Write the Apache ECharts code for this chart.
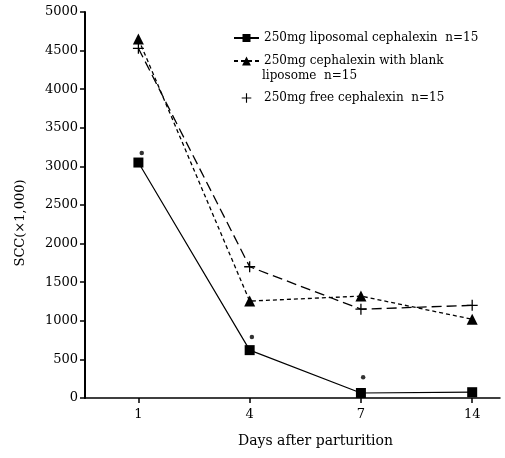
<!DOCTYPE html>
<html>
<head>
<meta charset="utf-8">
<script src="https://cdn.jsdelivr.net/npm/echarts@6/dist/echarts.min.js"></script>
<style>
  html, body { margin: 0; padding: 0; background: #fff; }
  #chart { width: 505px; height: 458px; }
</style>
</head>
<body>
<div id="chart"></div>
<script>
// days after parturition
var days = ['1', '4', '7', '14'];
var dayIdx = [0, 1, 2, 3];

// SCC (x1,000)
var liposomal = [3050, 620, 65, 75];
var blankLipo = [4650, 1255, 1320, 1020];
var freeCeph = [4530, 1700, 1150, 1200];
// significance marks (*) above liposomal points
var sigIdx = [0.03, 1.02, 2.02];
var sigVals = [3175, 790, 270];

var names = [
    '250mg liposomal cephalexin  n=15',
    '250mg cephalexin with blank',
    '250mg free cephalexin  n=15'
];

function pts (vals, idx) {
    return vals.map(function (v, i) { return [idx[i], v]; });
}

var serif = 'DejaVu Serif';
var plusPath = 'path://M5.3,0h1.4v5.3h5.3v1.4h-5.3v5.3h-1.4v-5.3h-5.3v-1.4h5.3z';

var chart = echarts.init(document.getElementById('chart'));

var option = {
    animation: false,
    backgroundColor: '#fff',
    grid: { left: 85, right: 5, top: 12, bottom: 60 },
    legend: [
        {
            data: [names[0]], left: 228, top: 27, itemWidth: 25, itemHeight: 10,
            textStyle: { fontFamily: serif, fontSize: 12, color: '#000' }
        },
        {
            data: [names[1]], left: 228, top: 50, itemWidth: 25, itemHeight: 11,
            textStyle: { fontFamily: serif, fontSize: 12, color: '#000' }
        },
        {
            data: [names[2]], left: 228, top: 87, itemWidth: 25, itemHeight: 12,
            lineStyle: { opacity: 0 },
            textStyle: { fontFamily: serif, fontSize: 12, color: '#000' }
        }
    ],
    graphic: [
        {
            type: 'text', left: 262, top: 70,
            style: { text: 'liposome  n=15', font: '12px "DejaVu Serif"', fill: '#000' }
        }
    ],
    xAxis: {
        type: 'value',
        min: -0.48,
        max: 3.25,
        splitLine: { show: false },
        axisLine: { lineStyle: { color: '#000', width: 1.5 } },
        axisTick: { customValues: dayIdx, length: 5, lineStyle: { color: '#000', width: 1.5 } },
        axisLabel: {
            customValues: dayIdx,
            formatter: function (v) { return days[v]; },
            fontFamily: serif, fontSize: 13, color: '#000', margin: 10
        },
        name: 'Days after parturition',
        nameLocation: 'middle',
        nameGap: 36,
        nameTextStyle: { fontFamily: serif, fontSize: 14, color: '#000', padding: [0, 0, 0, 46] }
    },
    yAxis: {
        type: 'value',
        min: 0,
        max: 5000,
        interval: 500,
        splitLine: { show: false },
        axisLine: { show: true, onZero: false, lineStyle: { color: '#000', width: 2 } },
        axisTick: { show: true, length: 5, lineStyle: { color: '#000', width: 1.5 } },
        axisLabel: {
            formatter: function (v) { return String(v); },
            fontFamily: serif, fontSize: 13, color: '#000', margin: 7
        },
        name: 'SCC(\u00d71,000)',
        nameLocation: 'middle',
        nameGap: 58,
        nameTextStyle: { fontFamily: serif, fontSize: 13, color: '#000', padding: [0, 0, 0, -36] }
    },
    series: [
        {
            name: names[0], type: 'line', data: pts(liposomal, dayIdx),
            symbol: 'rect', symbolSize: 10,
            itemStyle: { color: '#000' },
            lineStyle: { color: '#000', width: 1.2, type: 'solid' }
        },
        {
            name: names[1], type: 'line', data: pts(blankLipo, dayIdx),
            symbol: 'triangle', symbolSize: 11,
            itemStyle: { color: '#000' },
            lineStyle: { color: '#000', width: 1.3, type: [4, 3] }
        },
        {
            name: names[2], type: 'line', data: pts(freeCeph, dayIdx),
            symbol: plusPath, symbolSize: 11,
            itemStyle: { color: '#000' },
            lineStyle: { color: '#000', width: 1.3, type: [10, 5] }
        },
        {
            name: 'sig', type: 'scatter', data: pts(sigVals, sigIdx),
            symbol: 'circle', symbolSize: 4.5,
            itemStyle: { color: '#000' }
        }
    ]
};

chart.setOption(option);
</script>
</body>
</html>
